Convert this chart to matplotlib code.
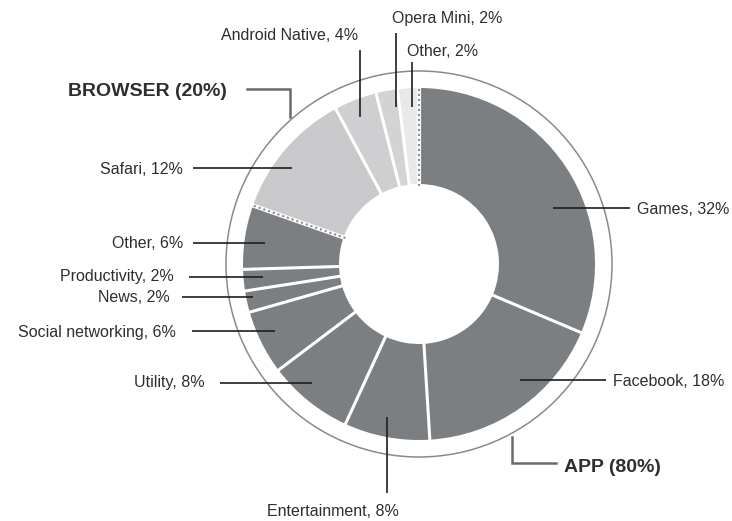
import numpy as np
import matplotlib
matplotlib.use("Agg")
import matplotlib.pyplot as plt
from matplotlib.patches import Circle

# ---- data ----
categories = ["Games", "Facebook", "Entertainment", "Utility", "Social networking",
              "News", "Productivity", "Other", "Safari", "Android Native",
              "Opera Mini", "Other"]
values = [32, 18, 8, 8, 6, 2, 2, 6, 12, 4, 2, 2]
groups = ["app"] * 8 + ["browser"] * 4
group_labels = ["APP (80%)", "BROWSER (20%)"]

# ---- style / layout ----
H = 521
plt.rcParams["font.family"] = ["Liberation Sans", "DejaVu Sans"]
LABEL_SIZE = 11.5
GROUP_SIZE = 14
APP_COLOR = "#7c7f82"
BROWSER_COLORS = ["#c9c9cb", "#cfcfd1", "#d3d3d5", "#e9e9ea"]
TXT = "#2e2e2e"
LINE = "#1e1e1e"
cx, cy = 419, H - 264
R_OUT, R_IN, R_RING = 176, 80, 193

# label layout in image pixel coords: (text x, text y, ha, va, line points)
label_layout = [
    (637, 209, "left", "center", [(553, 208), (630, 208)]),
    (613, 382, "left", "center", [(520, 380), (606, 380)]),
    (333, 512, "center", "center", [(387, 417), (387, 493)]),
    (205, 383, "right", "center", [(220, 383), (312, 383)]),
    (176, 332, "right", "center", [(192, 331), (275, 331)]),
    (170, 298, "right", "center", [(182, 297), (253, 297)]),
    (174, 277, "right", "center", [(189, 277), (263, 277)]),
    (183, 244, "right", "center", [(193, 243), (265, 243)]),
    (183, 170, "right", "center", [(193, 168), (292, 168)]),
    (358, 35, "right", "center", [(360, 50), (360, 117)]),
    (392, 19, "left", "center", [(396, 33), (396, 107)]),
    (407, 51, "left", "center", [(412, 62), (412, 107)]),
]
group_layout = [
    (564, 467, "left", [(512, 437), (512, 463), (556, 463)]),
    (68, 91, "left", [(247, 89), (290, 89), (290, 117)]),
]

fig = plt.figure(figsize=(7.32, 5.21), dpi=100)
ax = fig.add_axes([0, 0, 1, 1])

# outer ring
ax.add_patch(Circle((cx, cy), R_RING, facecolor="white", edgecolor="#8a8a8a", lw=1.1, zorder=1))

colors = []
bi = 0
for g in groups:
    if g == "app":
        colors.append(APP_COLOR)
    else:
        colors.append(BROWSER_COLORS[bi]); bi += 1

ax.pie(values, colors=colors, startangle=90, counterclock=False, radius=R_OUT,
       center=(cx, cy), wedgeprops=dict(width=R_OUT - R_IN, linewidth=0), frame=True)
ax.set_xlim(0, 732)
ax.set_ylim(0, H)
ax.set_aspect("equal")
ax.axis("off")

# separators
total = sum(values)
cum = np.concatenate([[0], np.cumsum(values)])
for i in range(len(values)):
    th = np.deg2rad(90 - 360 * cum[i] / total)
    r = np.array([R_IN - 2, R_OUT + 1])
    xs, ys = cx + r * np.cos(th), cy + r * np.sin(th)
    if groups[i - 1] != groups[i]:
        ax.plot(xs, ys, color="white", lw=3.0, solid_capstyle="butt", zorder=3)
        ax.plot(xs, ys, color="#8d8d8d", lw=1.5, linestyle=(0, (1.0, 1.4)), zorder=4)
    else:
        ax.plot(xs, ys, color="white", lw=2.2, solid_capstyle="butt", zorder=3)

# labels
for name, v, (tx, ty, ha, va, pts) in zip(categories, values, label_layout):
    px = [p[0] for p in pts]
    py = [H - p[1] for p in pts]
    ax.plot(px, py, color=LINE, lw=1.2, zorder=5, solid_capstyle="butt")
    ax.text(tx, H - ty, f"{name}, {v}%", ha=ha, va=va, fontsize=LABEL_SIZE, color=TXT, zorder=6)

for lab, (tx, ty, ha, pts) in zip(group_labels, group_layout):
    px = [p[0] for p in pts]
    py = [H - p[1] for p in pts]
    ax.plot(px, py, color="#6a6a6a", lw=1.8, zorder=5, solid_joinstyle="miter")
    ax.text(tx, H - ty, lab, ha=ha, va="center", fontsize=GROUP_SIZE, fontweight="bold",
            color=TXT, zorder=6)

fig.savefig("out.png", dpi=100, facecolor="white")
